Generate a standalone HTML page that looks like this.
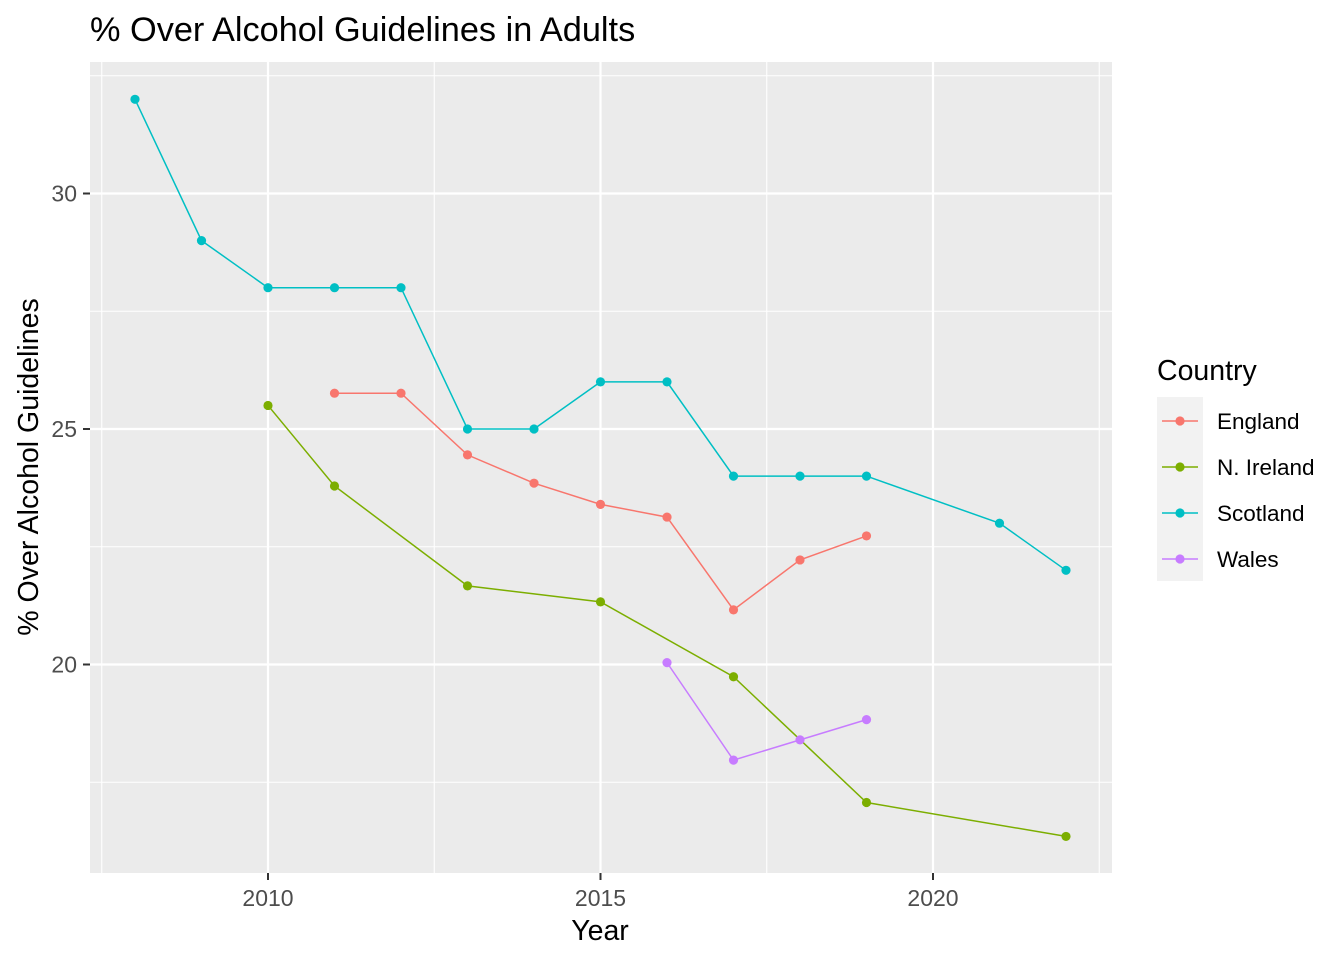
<!DOCTYPE html>
<html><head><meta charset="utf-8"><style>
body{margin:0;background:#fff;}
text{font-family:"Liberation Sans",Arial,sans-serif;}
</style></head><body>
<svg id="chart" width="1344" height="960">
<text x="90" y="41" font-size="34.3" fill="#000">% Over Alcohol Guidelines in Adults</text>
<rect x="90" y="62" width="1022" height="811" fill="#EBEBEB"/>
<g id="grid"></g>
<g id="series"></g>
<g id="axes"></g>
<text x="600" y="940" font-size="28.5" text-anchor="middle">Year</text>
<text transform="translate(38,467) rotate(-90)" font-size="28.5" text-anchor="middle">% Over Alcohol Guidelines</text>
<g id="legend">
<text x="1157" y="380" font-size="28.5">Country</text>
<rect x="1157" y="397" width="46" height="184" fill="#F2F2F2"/>
</g>
</svg>
<script>
const countries=["England","N. Ireland","Scotland","Wales"];
const colors=["#F8766D","#7CAE00","#00BFC4","#C77CFF"];
const englandYears=[2011,2012,2013,2014,2015,2016,2017,2018,2019];
const englandVals=[25.76,25.76,24.45,23.85,23.4,23.13,21.16,22.22,22.73];
const nirelandYears=[2010,2011,2013,2015,2017,2019,2022];
const nirelandVals=[25.5,23.79,21.67,21.33,19.74,17.07,16.35];
const scotlandYears=[2008,2009,2010,2011,2012,2013,2014,2015,2016,2017,2018,2019,2021,2022];
const scotlandVals=[32,29,28,28,28,25,25,26,26,24,24,24,23,22];
const walesYears=[2016,2017,2018,2019];
const walesVals=[20.04,17.97,18.4,18.83];
const xTicks=[2010,2015,2020];
const yTicks=[20,25,30];
const NS="http://www.w3.org/2000/svg";
const x=v=>268+(v-2010)*66.5;
const y=v=>429-(v-25)*47.1;
function mk(tag,attrs,parent){const e=document.createElementNS(NS,tag);for(const k in attrs)e.setAttribute(k,attrs[k]);parent.appendChild(e);return e;}
const grid=document.getElementById('grid');
[2007.5,2012.5,2017.5,2022.5].forEach(v=>{const l=mk('line',{x1:x(v),x2:x(v),y1:62,y2:873,stroke:'#fff','stroke-width':1.1},grid);

});
[17.5,22.5,27.5,32.5].forEach(v=>{const l=mk('line',{x1:90,x2:1112,y1:y(v),y2:y(v),stroke:'#fff','stroke-width':1.1},grid);

});
const axes=document.getElementById('axes');
xTicks.forEach(v=>{const l=mk('line',{x1:x(v),x2:x(v),y1:62,y2:873,stroke:'#fff','stroke-width':2.2},grid);


const t=mk('line',{x1:x(v),x2:x(v),y1:873,y2:880,stroke:'#333','stroke-width':2},axes);


const tx=mk('text',{x:x(v),y:906,'font-size':23,'text-anchor':'middle',fill:'#4D4D4D'},axes);tx.textContent=v;

});
yTicks.forEach(v=>{const l=mk('line',{x1:90,x2:1112,y1:y(v),y2:y(v),stroke:'#fff','stroke-width':2.2},grid);


const t=mk('line',{x1:83,x2:90,y1:y(v),y2:y(v),stroke:'#333','stroke-width':2},axes);


const tx=mk('text',{x:77,y:y(v)+8,'font-size':23,'text-anchor':'end',fill:'#4D4D4D'},axes);tx.textContent=v;

});
const series=document.getElementById('series');
const data=[[englandYears,englandVals],[nirelandYears,nirelandVals],[scotlandYears,scotlandVals],[walesYears,walesVals]];
data.forEach((d,i)=>{
const p=mk('polyline',{points:d[0].map((yr,j)=>x(yr)+','+y(d[1][j])).join(' '),fill:'none',stroke:colors[i],'stroke-width':1.5},series);


d[0].forEach((yr,j)=>{const c=mk('circle',{cx:x(yr),cy:y(d[1][j]),r:4.6,fill:colors[i]},series);

});});
const leg=document.getElementById('legend');
countries.forEach((c,i)=>{const cy=421+i*46;
const l=mk('line',{x1:1162,x2:1198,y1:cy,y2:cy,stroke:colors[i],'stroke-width':1.5},leg);


mk('circle',{cx:1180,cy:cy,r:4.6,fill:colors[i]},leg);
const t=mk('text',{x:1217,y:cy+8,'font-size':22.5},leg);t.textContent=c;

});
</script>
</body></html>
